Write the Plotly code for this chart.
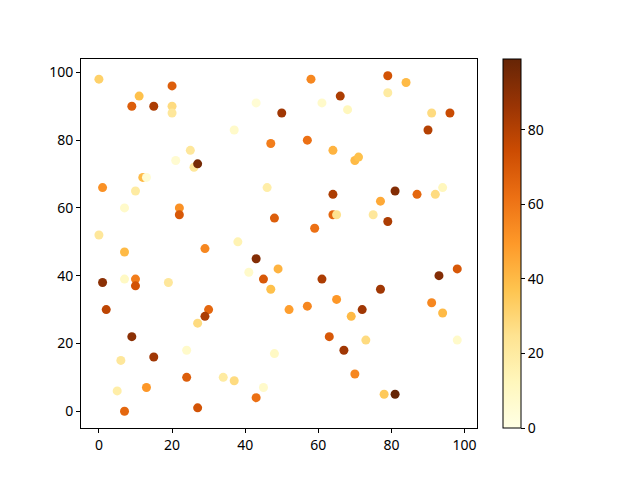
import plotly.graph_objects as go

# points (x, y, colour value)
xs = [0, 20, 11, 9, 15, 20, 20, 43, 50, 37,
      47, 25, 21, 26, 27, 12, 13, 1, 10, 46,
      7, 22, 22, 48, 0, 38, 29, 58, 79, 84,
      79, 66, 61, 68, 91, 96, 90, 57, 64, 70,
      71, 64, 81, 77, 87, 92, 94, 64, 65, 75,
      79, 59, 7, 43, 41, 45, 49, 47, 1, 7,
      10, 10, 19, 2, 30, 29, 27, 9, 15, 24,
      6, 48, 24, 34, 37, 13, 5, 45, 43, 7,
      27, 61, 77, 98, 93, 52, 57, 65, 72, 69,
      91, 94, 63, 67, 73, 98, 70, 78, 81]
ys = [98, 96, 93, 90, 90, 90, 88, 91, 88, 83,
      79, 77, 74, 72, 73, 69, 69, 66, 65, 66,
      60, 60, 58, 57, 52, 50, 48, 98, 99, 97,
      94, 93, 91, 89, 88, 88, 83, 80, 77, 74,
      75, 64, 65, 62, 64, 64, 66, 58, 58, 58,
      56, 54, 47, 45, 41, 39, 42, 36, 38, 39,
      39, 37, 38, 30, 30, 28, 26, 22, 16, 18,
      15, 17, 10, 10, 9, 7, 6, 7, 4, 0,
      1, 39, 36, 42, 40, 30, 31, 33, 30, 28,
      32, 29, 22, 18, 21, 21, 11, 5, 5]
cs = [32, 68, 38, 68, 82, 28, 22, 5, 85, 8,
      58, 22, 6, 22, 95, 40, 5, 52, 20, 18,
      8, 52, 70, 68, 22, 15, 55, 55, 72, 40,
      20, 82, 8, 12, 28, 75, 80, 62, 42, 40,
      38, 82, 92, 45, 65, 28, 12, 65, 25, 22,
      82, 62, 40, 92, 8, 70, 42, 38, 90, 10,
      58, 72, 22, 78, 65, 82, 28, 90, 85, 8,
      22, 10, 68, 20, 28, 50, 18, 8, 62, 65,
      72, 82, 85, 70, 92, 48, 55, 50, 85, 40,
      55, 40, 70, 85, 28, 8, 55, 35, 99]

trace = go.Scatter(
    x=xs, y=ys, mode="markers",
    marker=dict(
        size=9, color=cs, colorscale="YlOrBr", cmin=0, cmax=99,
        line=dict(width=0),
        colorbar=dict(
            x=1.066, xanchor="left", y=0.5, yanchor="middle",
            len=1, lenmode="fraction", thickness=18,
            xpad=0, ypad=0,
            outlinecolor="black", outlinewidth=1,
            tickvals=[0, 20, 40, 60, 80], ticks="outside", ticklen=4,
            tickcolor="black", tickfont=dict(size=14, color="black"),
        ),
    ),
    showlegend=False,
)

axis_style = dict(
    showgrid=False, zeroline=False, showline=True, linecolor="black",
    mirror=True, ticks="outside", ticklen=4, tickcolor="black",
    tickfont=dict(size=14, color="black"),
)

fig = go.Figure(data=[trace])
fig.update_layout(
    width=640, height=480,
    # page has an 8px body margin, so pull everything up/left a bit
    margin=dict(l=73, r=171, t=51, b=60, autoexpand=False),
    paper_bgcolor="white", plot_bgcolor="white",
    font=dict(family="Noto Sans", color="black"),
)
fig.update_xaxes(range=[-4.9, 103.4], tickvals=[0, 20, 40, 60, 80, 100], **axis_style)
fig.update_yaxes(range=[-4.95, 103.95], tickvals=[0, 20, 40, 60, 80, 100], **axis_style)

fig.write_html("out.html")
